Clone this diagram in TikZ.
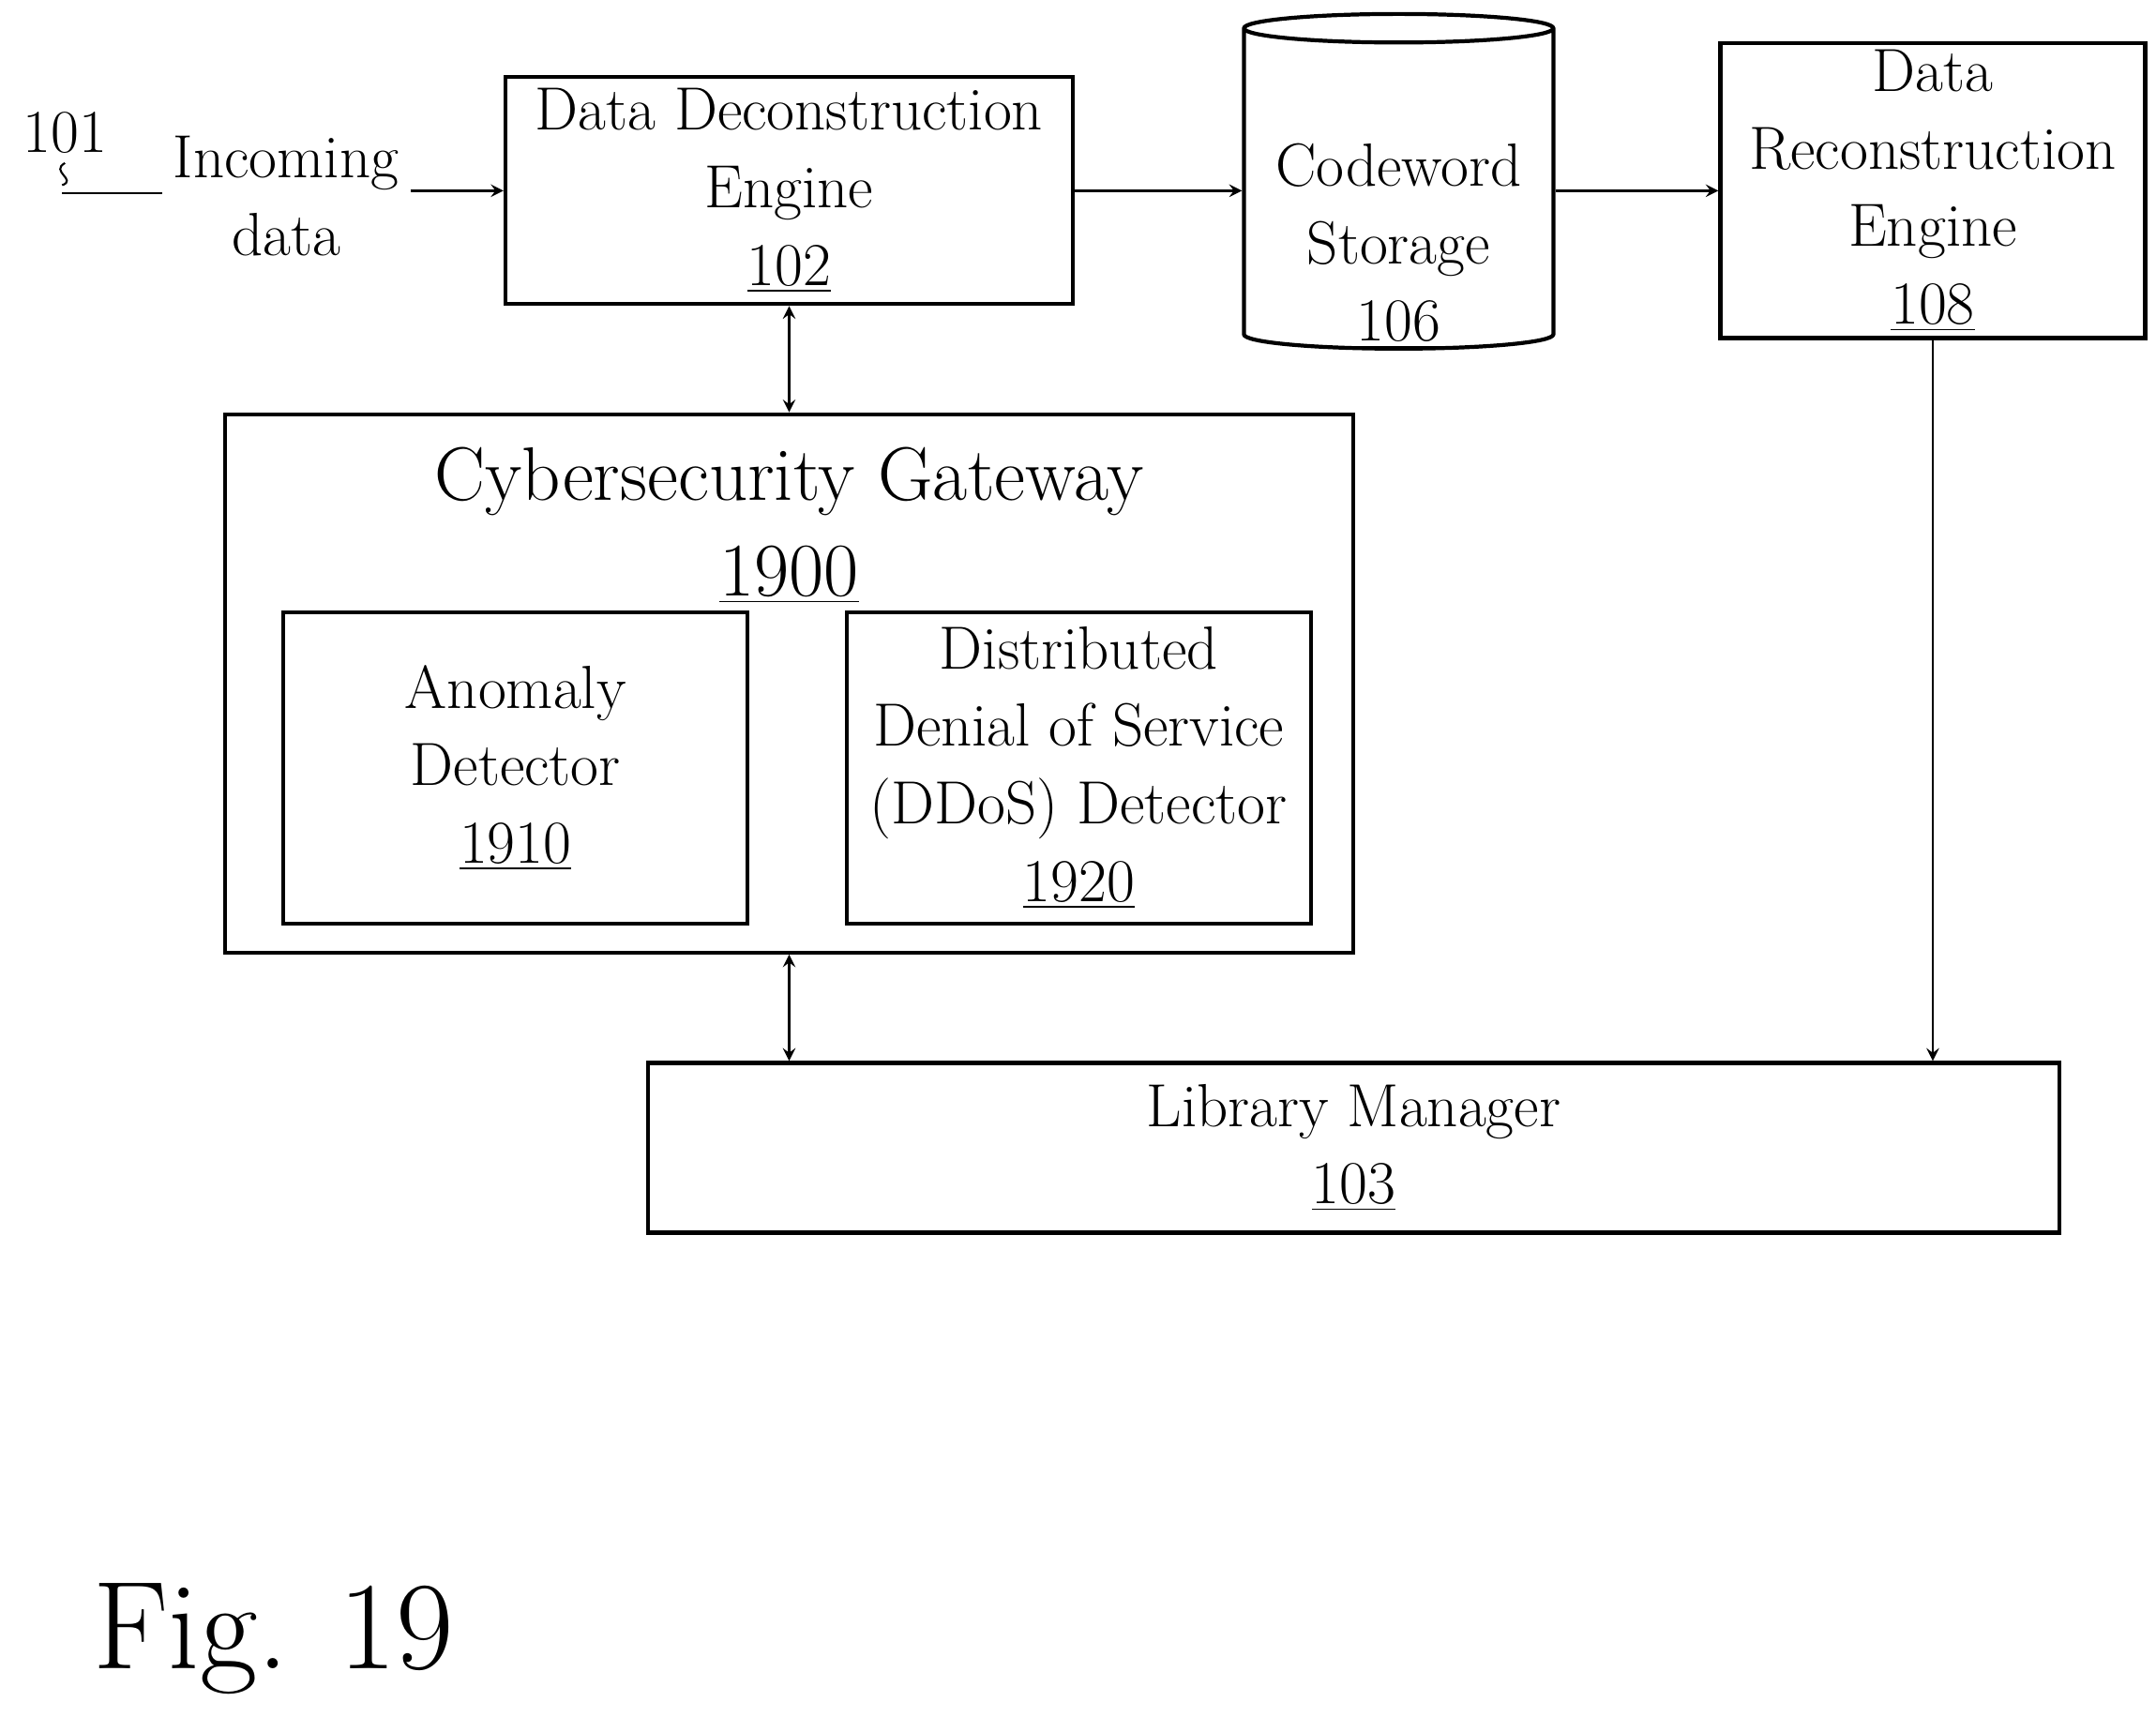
\documentclass[tikz,border=0pt]{standalone}
\usetikzlibrary{shapes.geometric, positioning}

\tikzset{
  blk/.style={draw, line width=1.2pt, align=center, inner sep=2pt},
  lnk/.style={line width=0.7pt, -stealth},
  lnk2/.style={line width=0.7pt, stealth-stealth}
}

\begin{document}
\begin{tikzpicture}[x=0.014744cm, y=-0.014744cm,
  font=\fontsize{18.5}{23.5}\selectfont]
   \useasboundingbox (0,0) rectangle (1560,1242);

   % Obere Reihe
   \node[blk, minimum width=6.05cm, minimum height=2.42cm] (dde) at (571,138)
        {Data Deconstruction\\Engine\\\underline{102}};
   \node[draw, line width=1.2pt, cylinder, shape border rotate=90, aspect=1.3,
         minimum width=3.3cm, minimum height=3.57cm, align=center] (cws) at (1012,139) {};
   \node[align=center] (cwstxt) at (1012,178) {Codeword\\Storage\\\underline{106}};
   \node[blk, minimum width=4.53cm, minimum height=3.01cm] (dre) at (1398.5,138)
        {Data\\Reconstruction\\Engine\\\underline{108}};
   \node[align=center] (inc) at (207,142) {Incoming\\data};
   \node (ref) at (47,96) {101};
   \coordinate (refend) at (45,140);

   % Gateway
   \node[blk, minimum width=12.03cm, minimum height=5.74cm] (gw) at (571,494.5) {};
   \node[align=center, font=\fontsize{23}{29}\selectfont] (gwlbl) at (571,380)
        {Cybersecurity Gateway\\\underline{1900}};
   \node[blk, minimum width=4.95cm, minimum height=3.32cm] (anom) at (373,555.5)
        {Anomaly\\Detector\\\underline{1910}};
   \node[blk, minimum width=4.95cm, minimum height=3.32cm] (ddos) at (780.5,555.5)
        {Distributed\\Denial of Service\\(DDoS) Detector\\\underline{1920}};

   % Library
   \node[blk, minimum width=15.05cm, minimum height=1.81cm] (lib) at (979.5,830.5)
        {Library Manager\\\underline{103}};

   \node[font=\fontsize{38}{46}\selectfont] (fig) at (198,1186) {Fig. 19};

   % Verbindungen
   \draw[line width=0.6pt] (refend) -- (refend -| inc.west);
   \draw[line width=0.6pt] (45,134) .. controls (56,130) and (36,124) .. (47,118);
   \draw[lnk] (inc.east |- dde.west) -- (dde.west);
   \draw[lnk] (dde.east) -- (cws.west |- dde.east);
   \draw[lnk] (cws.east |- dre.west) -- (dre.west);
   \draw[lnk2] (dde.south) -- (gw.north);
   \draw[lnk2] (gw.south) -- (gw.south |- lib.north);
   \draw[lnk] (dre.south) -- (dre.south |- lib.north);
\end{tikzpicture}
\end{document}
